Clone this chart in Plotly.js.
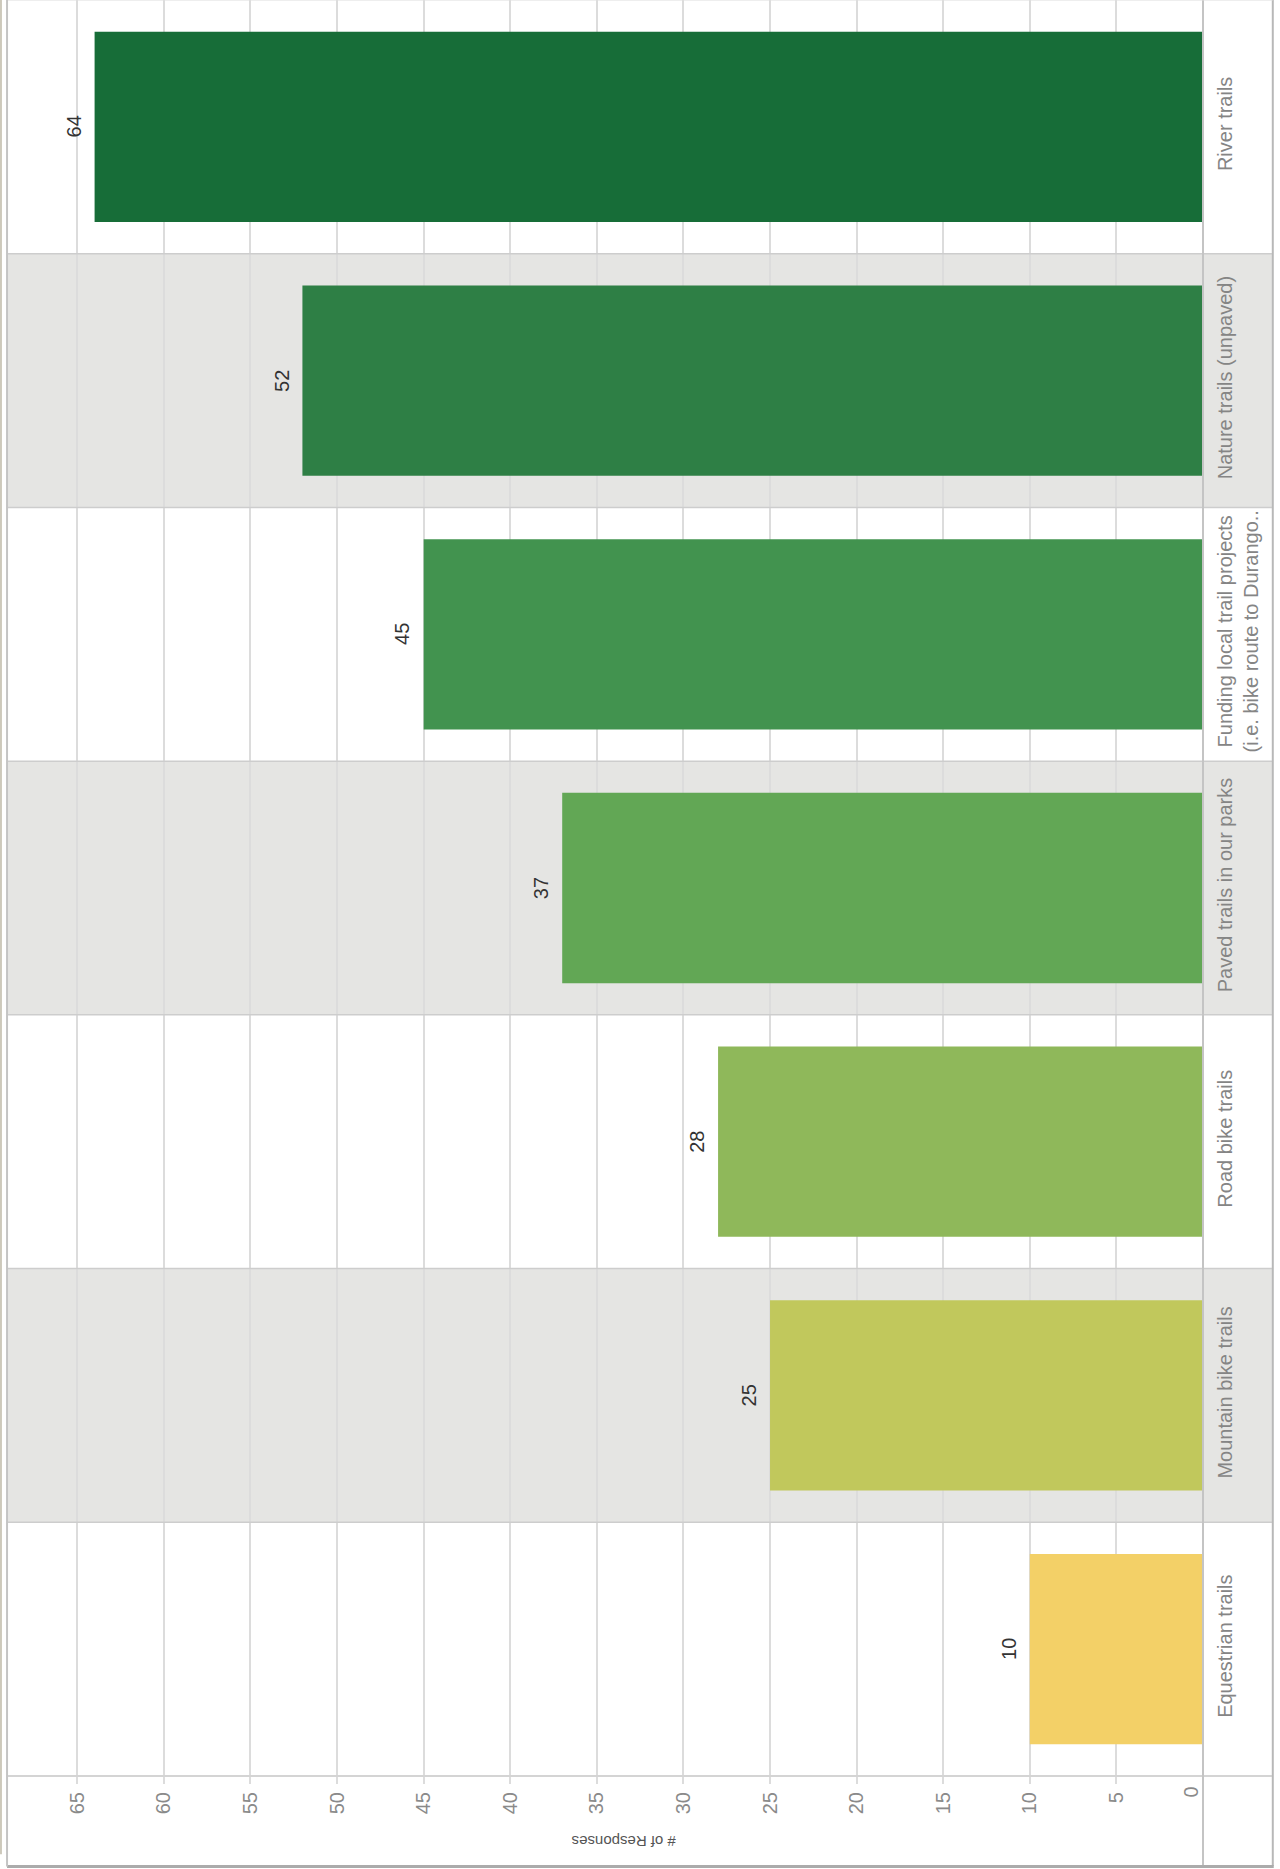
<!DOCTYPE html>
<html>
<head>
<meta charset="utf-8">
<script src="https://cdn.plot.ly/plotly-3.0.1.min.js"></script>
<style>
html,body{margin:0;padding:0;background:#fff;}
#chart{width:1280px;height:1869px;}
</style>
</head>
<body>
<div id="chart"></div>
<script>
// ---- data ----
const categories = [
  "River trails",
  "Nature trails (unpaved)",
  "Funding local trail projects<br>(i.e. bike route to Durango..",
  "Paved trails in our parks",
  "Road bike trails",
  "Mountain bike trails",
  "Equestrian trails"
];
const responses = [64, 52, 45, 37, 28, 25, 10];
const barColors = ["#176d38", "#2e7f45", "#42934f", "#62a755", "#8fb85a", "#c1c85c", "#f3d067"];
const xTickVals = [0, 5, 10, 15, 20, 25, 30, 35, 40, 45, 50, 55, 60, 65];
const xTitle = "# of Responses";
const shadedRows = [1, 3, 5];

const FONT = "Liberation Sans, Arial, Helvetica, sans-serif";
const TICKFONT = {family: FONT, size: 20, color: "#8a8a8a"};

const trace = {
  type: "bar",
  orientation: "h",
  x: responses,
  y: categories,
  marker: {color: barColors, line: {width: 0}},
  width: 0.75,
  hoverinfo: "x+y"
};

const shapes = [];
// alternating bands (extend into the label column)
shadedRows.forEach(i => {
  shapes.push({type: "rect", layer: "below", xref: "paper", yref: "y",
    x0: 0, x1: 1.0577, y0: i - 0.5, y1: i + 0.5,
    fillcolor: "#e5e5e3", line: {width: 0}});
});
// row boundaries
for (let i = 0; i < categories.length - 1; i++) {
  shapes.push({type: "line", layer: "above", xref: "paper", yref: "y",
    x0: 0, x1: 1.0577, y0: i + 0.5, y1: i + 0.5,
    line: {color: "#cdcdcd", width: 1.5}});
}
// plot bottom line
shapes.push({type: "line", xref: "paper", yref: "paper", x0: 0, x1: 1.0577, y0: 0, y1: 0,
  line: {color: "#d4d4d4", width: 2}});
// divider between bars and labels
shapes.push({type: "line", xref: "paper", yref: "paper", x0: 1, x1: 1, y0: 1, y1: -0.0507,
  line: {color: "#c4c4c4", width: 2}});
// right border
shapes.push({type: "line", xref: "paper", yref: "paper", x0: 1.0584, x1: 1.0584, y0: 1, y1: -0.0507,
  line: {color: "#b8b8b8", width: 2}});
// bottom border
shapes.push({type: "line", xref: "paper", yref: "paper", x0: -0.0008, x1: 1.0592, y0: -0.0510, y1: -0.0510,
  line: {color: "#ababab", width: 3}});
// left borders
shapes.push({type: "line", xref: "paper", yref: "paper", x0: -0.0008, x1: -0.0008, y0: 1, y1: -0.0510,
  line: {color: "#c4c4c4", width: 2}});
shapes.push({type: "line", xref: "paper", yref: "paper", x0: -0.0059, x1: -0.0059, y0: 1, y1: -0.044,
  line: {color: "#cdc9bb", width: 2}});
// top line
shapes.push({type: "line", xref: "paper", yref: "paper", x0: 0, x1: 1.0584, y0: 1, y1: 1,
  line: {color: "#dddddd", width: 1}});

const annotations = categories.map((c, i) => ({
  xref: "x", yref: "y", x: responses[i], y: c,
  text: String(responses[i]), showarrow: false,
  textangle: -90, xanchor: "right", yanchor: "middle", xshift: -8,
  font: {family: FONT, size: 20, color: "#333333"}
}));
// the "0" tick label sits just inside the plot edge
annotations.push({
  xref: "x", yref: "paper", x: xTickVals[0], y: 0,
  text: String(xTickVals[0]), showarrow: false, textangle: -90,
  xanchor: "center", yanchor: "top", xshift: -13, yshift: -9,
  font: TICKFONT
});
annotations.push({
  xref: "paper", yref: "paper", x: 0.515, y: -0.0372,
  text: xTitle, showarrow: false, textangle: 180,
  xanchor: "center", yanchor: "middle",
  font: {family: FONT, size: 15, color: "#555555"}
});

const layout = {
  width: 1280, height: 1869,
  margin: {l: 8, r: 77, t: 0, b: 93, pad: 0},
  paper_bgcolor: "#ffffff",
  plot_bgcolor: "rgba(0,0,0,0)",
  showlegend: false,
  bargap: 0.25,
  font: {family: FONT},
  xaxis: {
    range: [69, 0],
    tickvals: xTickVals,
    ticktext: xTickVals.map(v => v === 0 ? "" : String(v)),
    tickangle: -90,
    tickfont: TICKFONT,
    showgrid: true, gridcolor: "#dcdcdc", gridwidth: 2,
    zeroline: false, showline: false,
    ticks: "outside", ticklen: 7, tickcolor: "#dcdcdc", tickwidth: 2,
    fixedrange: true
  },
  yaxis: {
    type: "category",
    categoryorder: "array", categoryarray: categories,
    range: [6.5, -0.5],
    side: "right",
    tickangle: -90,
    tickfont: {family: FONT, size: 20, color: "#858585"},
    ticks: "", ticklabelstandoff: 8,
    showgrid: false, zeroline: false, showline: false,
    fixedrange: true
  },
  shapes: shapes,
  annotations: annotations
};

Plotly.newPlot("chart", [trace], layout, {displayModeBar: false, staticPlot: true});
</script>
</body>
</html>
